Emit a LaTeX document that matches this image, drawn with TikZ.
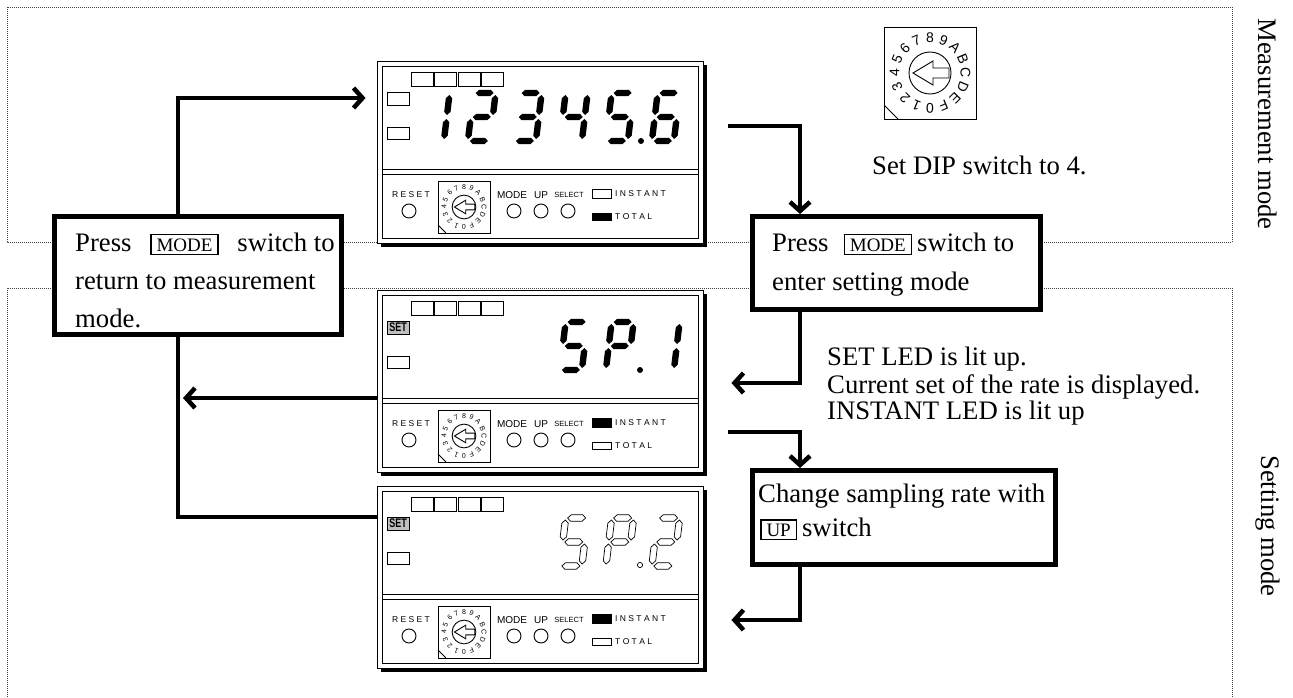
\documentclass[tikz,border=0pt]{standalone}
\usepackage{fontspec}
\setmainfont{Liberation Serif}
\newfontfamily\panelfont{Liberation Sans}
\usetikzlibrary{arrows.meta}

\newcommand\keybox[1]{{\setlength\fboxsep{3pt}\setlength\fboxrule{1.3pt}\fbox{\fontsize{19}{19}\selectfont\hspace{2pt}#1\hspace{2pt}}}}

% seven segment pieces
\newcommand\hseg[4]{\path[#4] (#1,#3) -- ({#1+3.2},{#3-3.2}) -- ({#2-3.2},{#3-3.2}) -- (#2,#3) -- ({#2-3.2},{#3+3.2}) -- ({#1+3.2},{#3+3.2}) -- cycle;}
\newcommand\vseg[4]{\path[#4] (#1,#2) -- ({#1+3.2},{#2+3.2}) -- ({#1+3.2},{#3-3.2}) -- (#1,#3) -- ({#1-3.2},{#3-3.2}) -- ({#1-3.2},{#2+3.2}) -- cycle;}
\newcommand\dsega[1]{\hseg{5}{23}{3}{#1}}
\newcommand\dsegg[1]{\hseg{5}{23}{27}{#1}}
\newcommand\dsegd[1]{\hseg{5}{23}{51}{#1}}
\newcommand\dsegf[1]{\vseg{3}{5}{25}{#1}}
\newcommand\dsegb[1]{\vseg{25}{5}{25}{#1}}
\newcommand\dsege[1]{\vseg{3}{29}{49}{#1}}
\newcommand\dsegc[1]{\vseg{25}{29}{49}{#1}}
\newcommand\dig[4]{\begin{scope}[shift={({#1+6.5},#2)}, xslant=0.12]
  \foreach \s in {#3}{\csname dseg\s\endcsname{#4}}
\end{scope}}

% rotary DIP switch
\newcommand\dipsw[5]{\begin{scope}[shift={(#2,#3)}, scale=#4]
  \draw[fill=white, line width=0.9] (-46,-46) rectangle (46,46);
  \draw[line width=0.9] (-46,32) -- (-32,46);
  \draw[line width=0.9] (0,0) circle (21);
  \draw[line width=0.9, line join=miter] (-17,0) -- (3,-12) -- (3,-5) -- (19,-5) -- (19,5) -- (3,5) -- (3,12) -- cycle;
  \foreach \t [count=\i from 0] in {0,1,2,3,4,5,6,7,8,9,A,B,C,D,E,F}{
    \pgfmathsetmacro\ang{270-22.5*\i}
    \node[font=\panelfont\fontsize{#5}{#5}\selectfont, inner sep=0, rotate=\ang-90] (#1-\i) at ({35.5*cos(\ang)},{-35.5*sin(\ang)}) {\t};
  }
\end{scope}}

% display panel
\newcommand\panelbase[5]{%
  \fill ({381},{#2+4}) rectangle ({707},{#2+186});
  \node[panelbox] (#1) at (540,{#2+91}) {};
  \begin{scope}[shift={(377,#2)}]
    \draw[line width=0.9] (5,5) rectangle (321,177);
    \draw[line width=0.9] (5,108) -- (321,108) (5,113) -- (321,113);
    \foreach \k in {0,...,3} \draw[line width=0.9] ({34+23.5*\k},11) rectangle ++(22,14);
    #3
    \draw[line width=0.9] (10,66) rectangle (32,78);
    \node[lbl] (#1-rs) at (34,134) {R E S E T};
    \draw[line width=0.9] (32,150) circle (7);
    \dipsw{#1-dip}{87}{146}{0.565}{7}
    \node[lbl, font=\panelfont\fontsize{10}{10}\selectfont] (#1-md) at (135,134) {MODE};
    \node[lbl, font=\panelfont\fontsize{10}{10}\selectfont] (#1-up) at (164,134) {UP};
    \node[lbl, font=\panelfont\fontsize{7.5}{7.5}\selectfont] (#1-sl) at (192,134) {SELECT};
    \draw[line width=0.9] (137,150) circle (7) (164,150) circle (7) (191,150) circle (7);
    \draw[line width=0.9, #4] (215,128) rectangle (234,137);
    \node[lbl, anchor=west] (#1-in) at (238,132.5) {I N S T A N T};
    \draw[line width=0.9, #5] (215,152) rectangle (234,159);
    \node[lbl, anchor=west] (#1-tt) at (238,155.5) {T O T A L};
  \end{scope}}

\begin{document}
\begin{tikzpicture}[x=1pt, y=-1pt,
  conn/.style={line width=4.5pt, line join=miter},
  arr/.style={conn, -{Straight Barb[length=9pt,width=20pt]}},
  flowbox/.style={draw, line width=5pt, fill=white, inner sep=0},
  panelbox/.style={draw, line width=0.9pt, fill=white, minimum width=326pt, minimum height=182pt, inner sep=0},
  lbl/.style={inner sep=0, font=\panelfont\fontsize{8.5}{8.5}\selectfont},
  mtext/.style={inner sep=0, anchor=base west, font=\fontsize{26.7}{30}\selectfont},
  vtext/.style={inner sep=0, rotate=-90, font=\fontsize{26.7}{30}\selectfont},
  dotline/.style={line width=0.9pt, black!75, dash pattern=on 1pt off 1pt},
  segfill/.style={fill=black},
  segline/.style={draw=black, line width=0.7pt, fill=white},
  setlbl/.style={draw, line width=0.9pt, fill=black!25, minimum width=22pt, minimum height=13pt, inner sep=0, font=\panelfont\bfseries\fontsize{12.5}{12.5}\selectfont}
]
\useasboundingbox (0,0) rectangle (1293,698);

% mode regions
\draw[dotline] (7,7) rectangle (1232,242);
\draw[dotline] (7,705) -- (7,288) -- (1232,288) -- (1232,705);
\node[vtext] (mm) at (1268,124) {Measurement mode};
\node[vtext] (sm) at (1268,526) {Setting mode};

% big DIP switch
\dipsw{big}{930}{73}{1}{14}
\node[mtext] (t11) at (872,175) {Set DIP switch to 4.};

% panel 1 : measurement
\panelbase{p1}{61}{\draw[line width=0.9] (10,31) rectangle (32,44);}{draw}{draw,fill=black}
\begin{scope}[shift={(377,61)}]
  \dig{41.5}{29}{b,c}{segfill}
  \dig{87.5}{29}{a,b,g,e,d}{segfill}
  \dig{133.5}{29}{a,b,g,c,d}{segfill}
  \dig{179.5}{29}{f,g,b,c}{segfill}
  \dig{225.5}{29}{a,f,g,c,d}{segfill}
  \fill (264,80) circle (3);
  \dig{271.5}{29}{a,f,g,e,c,d}{segfill}
\end{scope}

% panel 2 : SP.1
\panelbase{p2}{290}{\node[setlbl] (p2-set) at (21,37.5) {\scalebox{0.72}[1]{SET}};}{draw,fill=black}{draw}
\begin{scope}[shift={(377,290)}]
  \dig{179.5}{29}{a,f,g,c,d}{segfill}
  \dig{225.5}{29}{a,b,f,g,e}{segfill}
  \fill (263,80) circle (3);
  \dig{271.5}{29}{b,c}{segfill}
\end{scope}

% panel 3 : SP.2
\panelbase{p3}{486}{\node[setlbl] (p3-set) at (21,37.5) {\scalebox{0.72}[1]{SET}};}{draw,fill=black}{draw}
\begin{scope}[shift={(377,486)}]
  \dig{179.5}{29}{a,f,g,c,d}{segline}
  \dig{225.5}{29}{a,b,f,g,e}{segline}
  \draw[line width=0.7pt] (263,79) circle (2.6);
  \dig{271.5}{29}{a,b,g,e,d}{segline}
\end{scope}

% flow boxes
\node[flowbox, minimum width=287pt, minimum height=118pt] (lbox) at (198,275.5) {};
\node[mtext] (t1) at (75,251) {Press \hspace{12pt}\keybox{MODE}\hspace{12pt} switch to};
\node[mtext] (t2) at (75,289) {return to measurement};
\node[mtext] (t3) at (75,327) {mode.};

\node[flowbox, minimum width=288pt, minimum height=93pt] (rbox) at (896.5,263) {};
\node[mtext] (t4) at (772,251) {Press\hspace{15pt}\keybox{MODE}\hspace{5pt}switch to};
\node[mtext] (t5) at (772,290) {enter setting mode};

\node[mtext] (t6) at (827,365) {SET LED is lit up.};
\node[mtext] (t7) at (827,393) {Current set of the rate is displayed.};
\node[mtext] (t8) at (827,419) {INSTANT LED is lit up};

\node[flowbox, minimum width=303pt, minimum height=94pt] (cbox) at (904,517.5) {};
\node[mtext] (t9) at (758,502) {Change sampling rate with};
\node[mtext] (t10) at (760,536) {\keybox{UP}\hspace{5pt}switch};

% connectors
\coordinate (k1) at (178,98);
\draw[arr, shorten >=11pt] (lbox.north -| k1) -- (k1) -- (k1 -| p1.west);
\coordinate (k2) at (800,126);
\draw[arr, shorten <=25pt] (k2 -| p1.east) -- (k2) -- (k2 |- rbox.north);
\coordinate (k3) at (800,383);
\draw[arr, shorten >=28pt] (rbox.south -| k3) -- (k3) -- (k3 -| p2.east);
\coordinate (k4) at (800,432);
\draw[arr, shorten <=25pt] (k4 -| p2.east) -- (k4) -- (k4 |- cbox.north);
\coordinate (k5) at (800,620);
\draw[arr, shorten >=28pt] (cbox.south -| k5) -- (k5) -- (k5 -| p3.east);
\coordinate (k6) at (178,398);
\draw[arr, shorten >=5pt] (k6 -| p2.west) -- (k6);
\coordinate (k7) at (178,517);
\draw[conn] (lbox.south -| k7) -- (k7) -- (k7 -| p3.west);
\end{tikzpicture}
\end{document}
